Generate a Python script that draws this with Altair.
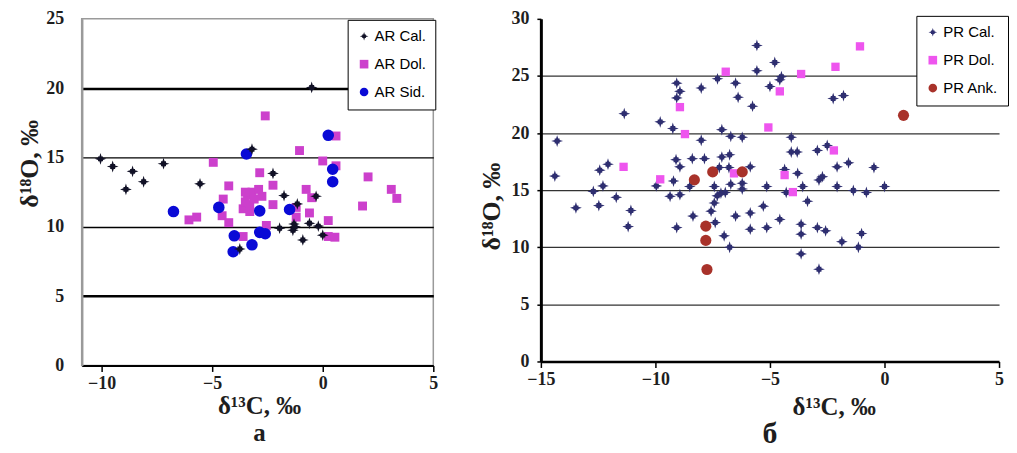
import altair as alt
import pandas as pd

# ---------------- Panel а (AR) ----------------
ar_types = ["AR Cal.", "AR Dol.", "AR Sid."]

ar_cal_x = [-10.05, -9.5, -8.6, -8.9, -8.1, -7.2, -5.55, -3.2, -3.75, -2.25, -1.95, -1.75,
            -1.15, -1.35, -1.3, -1.25, -0.9, -0.6, -0.2, -0.3, 0.0, -0.5]
ar_cal_y = [14.9, 14.35, 14.0, 12.7, 13.25, 14.55, 13.1, 15.6, 8.4, 13.85, 9.9, 12.25,
            11.65, 9.75, 10.2, 10.0, 9.05, 10.25, 10.05, 12.2, 9.4, 20.05]

ar_dol_x = [-2.6, 0.6, -1.05, -4.95, 0.0, 0.6, -2.85, -4.25, -2.25, 2.05, -4.5, -2.25,
            -0.75, -0.5, -1.2, -0.6, -1.2, -4.55, -4.25, -6.05, -5.7, -2.55, -3.6, 0.25,
            0.25, 0.55, 1.8, 3.1, 3.35, -2.75, -3.6, -3.5, -3.4, -3.3, -3.2, -3.1, -2.9,
            -3.5, -3.3]
ar_dol_y = [18.0, 16.55, 15.5, 14.65, 14.75, 14.4, 13.9, 12.95, 13.0, 13.6, 12.0, 11.6,
            12.7, 12.1, 11.4, 11.0, 10.7, 10.8, 10.3, 10.5, 10.7, 10.1, 9.3, 10.45,
            9.3, 9.25, 11.5, 12.7, 12.05, 12.2, 11.3, 11.8, 12.3, 11.6, 12.5, 12.0, 12.7,
            12.5, 11.1]

ar_sid_x = [0.25, 0.45, 0.45, -3.45, -6.75, -4.7, -2.85, -1.5, -4.0, -4.05, -3.2, -2.85, -2.6]
ar_sid_y = [16.6, 14.15, 13.25, 15.25, 11.1, 11.4, 11.15, 11.25, 9.35, 8.2, 8.7, 9.6, 9.5]

# ---------------- Panel б (PR) ----------------
pr_types = ["PR Cal.", "PR Dol.", "PR Ank."]

pr_cal_x = [-5.57, -4.79, -5.57, -7.29, -6.5, -8.0, -9.07, -8.93, -9.07, -4.5, -4.57, -5.0,
            -6.39, -5.76, -2.24, -1.79, -11.36, -9.79, -9.24, -7.1, -6.71, -6.21, -4.07,
            -8.0, -14.29, -4.07, -3.81, -2.93, -2.5, -9.1, -8.93, -8.39, -7.86, -7.1, -6.76,
            -12.07, -12.43, -14.39, -5.86, -7.21, -6.79, -4.36, -3.79, -2.71, -2.86, -2.07,
            -1.57, -0.46, -9.21, -9.96, -12.29, -12.71, -11.71, -13.47, -12.47, -11.07,
            -11.19, -9.36, -8.93, -8.5, -7.43, -7.14, -7.3, -6.95, -6.71, -6.21, -6.21,
            -5.14, -3.57, -4.29, -2.07, -1.36, -0.79, 0.0, -7.43, -7.57, -5.29, -3.36,
            -8.36, -6.5, -5.86, -7.39, -9.07, -5.86, -5.14, -4.57, -3.64, -3.64, -2.93,
            -2.57, -7.0, -6.76, -1.86, -1.0, -1.14, -3.64, -2.86]
pr_cal_y = [27.67, 26.18, 25.45, 24.75, 24.37, 23.94, 24.37, 23.65, 23.08, 24.94, 24.66, 24.08,
            23.13, 22.35, 23.02, 23.28, 21.7, 20.98, 20.4, 20.3, 19.71, 19.63, 19.63,
            19.37, 19.3, 18.34, 18.34, 18.48, 18.91, 17.67, 17.04, 17.76, 17.76, 17.9, 18.1,
            17.27, 16.75, 16.23, 17.04, 16.98, 16.98, 16.81, 16.47, 16.18, 15.89, 17.04,
            17.39, 16.98, 15.8, 15.37, 15.37, 14.89, 14.37, 13.45, 13.65, 13.22,
            11.81, 14.46, 14.6, 15.32, 15.32, 14.74, 14.5, 14.8, 15.52, 15.6, 15.1,
            15.32, 15.32, 14.8, 15.32, 14.97, 14.8, 15.32, 13.88, 13.16, 13.6, 14.03,
            12.73, 12.73, 13.0, 12.16, 11.72, 11.58, 11.72, 12.44, 12.01, 11.15, 11.72,
            11.44, 11.0, 10.0, 10.49, 11.2, 10.0, 9.42, 8.08]

pr_dol_x = [-1.07, -2.14, -6.93, -3.64, -4.57, -8.93, -8.71, -5.07, -2.21, -11.39, -9.79,
            -4.36, -4.0, -6.57]
pr_dol_y = [27.59, 25.8, 25.37, 25.17, 23.65, 22.27, 19.91, 20.49, 18.48, 17.04, 15.95,
            16.32, 14.83, 16.47]

pr_ank_x = [0.83, -7.5, -6.21, -8.3, -7.8, -7.8, -7.75]
pr_ank_y = [21.55, 16.6, 16.6, 15.9, 11.85, 10.6, 8.05]

# marker areas (px^2) per series
ar_sizes = {"AR Cal.": 140, "AR Dol.": 80, "AR Sid.": 135}
pr_sizes = {"PR Cal.": 140, "PR Dol.": 70, "PR Ank.": 125}


def frame(xs, ys, name, sizes):
    return pd.DataFrame({"x": xs, "y": ys, "type": name, "sz": sizes[name]})


df_l = pd.concat([frame(ar_dol_x, ar_dol_y, "AR Dol.", ar_sizes),
                  frame(ar_sid_x, ar_sid_y, "AR Sid.", ar_sizes),
                  frame(ar_cal_x, ar_cal_y, "AR Cal.", ar_sizes)], ignore_index=True)
df_r = pd.concat([frame(pr_cal_x, pr_cal_y, "PR Cal.", pr_sizes),
                  frame(pr_dol_x, pr_dol_y, "PR Dol.", pr_sizes),
                  frame(pr_ank_x, pr_ank_y, "PR Ank.", pr_sizes)], ignore_index=True)

STAR = ("M0,-1L0.18,-0.42L0.42,-0.42L0.42,-0.18L1,0L0.42,0.18L0.42,0.42L0.18,0.42L0,1"
        "L-0.18,0.42L-0.42,0.42L-0.42,0.18L-1,0L-0.42,-0.18L-0.42,-0.42L-0.18,-0.42Z")

SERIF = "Liberation Serif"
SANS = "Liberation Sans"
TXT = "#1e1e1e"


def legend(lx, ly):
    return alt.Legend(orient="none", legendX=lx, legendY=ly, title=None,
                      strokeColor="black", fillColor="white", padding=9,
                      rowPadding=12, labelFont=SANS, labelFontSize=15,
                      labelColor="black", labelOffset=3, symbolStrokeWidth=0,
                      symbolSize=75)


leg_l = legend(267, 1)
left = alt.Chart(df_l).mark_point(filled=True, opacity=1).encode(
    x=alt.X("x:Q", scale=alt.Scale(domain=[-10.9, 5], nice=False, zero=False),
            axis=alt.Axis(values=[-10, -5, 0, 5], grid=False,
                          title=["δ¹³C, ‰", "а"],
                          labelFont=SERIF, labelFontSize=18, labelFontWeight="bold",
                          labelColor=TXT, labelFlush=False, labelPadding=3,
                          domainColor="black", domainWidth=2, tickColor="black",
                          tickWidth=1.5, tickSize=6,
                          titleFont=SERIF, titleFontSize=25, titleFontWeight="bold",
                          titleColor=TXT, titlePadding=1, titleLineHeight=27,
                          titleX=178)),
    y=alt.Y("y:Q", scale=alt.Scale(domain=[0, 25], nice=False, zero=True),
            axis=alt.Axis(values=[0, 5, 10, 15, 20, 25], grid=True, ticks=False,
                          gridColor="black",
                          gridWidth={"condition": {"test": "datum.value == 5 || datum.value == 20",
                                                   "value": 2.4}, "value": 1.3},
                          gridOpacity={"condition": {"test": "datum.value == 0 || datum.value == 25",
                                                     "value": 0}, "value": 1},
                          labelFont=SERIF, labelFontSize=18, labelFontWeight="bold",
                          labelColor=TXT, labelPadding=18,
                          domainColor="#9a9a9a", domainWidth=2.5,
                          title="δ¹⁸O, ‰", titleFont=SERIF, titleFontSize=26,
                          titleFontWeight="bold", titleColor=TXT, titlePadding=3,
                          titleY=145)),
    color=alt.Color("type:N", scale=alt.Scale(domain=ar_types,
                                              range=["#111126", "#cc40cc", "#0a0ad6"]),
                    legend=leg_l),
    shape=alt.Shape("type:N", scale=alt.Scale(domain=ar_types,
                                              range=[STAR, "square", "circle"]),
                    legend=leg_l),
    size=alt.Size("sz:Q", scale=None, legend=None),
).properties(
    width=353, height=348,
    view=alt.ViewBackground(stroke="#9a9a9a", strokeWidth=1.5),
)

leg_r = legend(377, -3)
right = alt.Chart(df_r).mark_point(filled=True, opacity=1).encode(
    x=alt.X("x:Q", scale=alt.Scale(domain=[-15, 5], nice=False, zero=False),
            axis=alt.Axis(values=[-15, -10, -5, 0, 5], grid=False, title="δ¹³C, ‰",
                          labelFont=SERIF, labelFontSize=18, labelFontWeight="bold",
                          labelColor=TXT, labelFlush=False, labelPadding=3,
                          domainColor="black", domainWidth=2.5, tickColor="black",
                          tickWidth=1.5, tickSize=6,
                          titleFont=SERIF, titleFontSize=25, titleFontWeight="bold",
                          titleColor=TXT, titlePadding=6, titleX=294)),
    y=alt.Y("y:Q", scale=alt.Scale(domain=[0, 30], nice=False, zero=True),
            axis=alt.Axis(values=[0, 5, 10, 15, 20, 25, 30], grid=True,
                          tickColor="black", tickSize=4, tickWidth=1.5,
                          gridColor="#333333", gridWidth=1.3,
                          gridOpacity={"condition": {"test": "datum.value == 0 || datum.value == 30",
                                                     "value": 0}, "value": 1},
                          labelFont=SERIF, labelFontSize=18, labelFontWeight="bold",
                          labelColor=TXT, labelPadding=8,
                          domainColor="black", domainWidth=3,
                          title="δ¹⁸O, ‰", titleFont=SERIF, titleFontSize=26,
                          titleFontWeight="bold", titleColor=TXT, titlePadding=7,
                          titleY=188)),
    color=alt.Color("type:N", scale=alt.Scale(domain=pr_types,
                                              range=["#2e2e70", "#ee55ee", "#a8322a"]),
                    legend=leg_r),
    shape=alt.Shape("type:N", scale=alt.Scale(domain=pr_types,
                                              range=[STAR, "square", "circle"]),
                    legend=leg_r),
    size=alt.Size("sz:Q", scale=None, legend=None),
).properties(
    width=460, height=344,
    view=alt.ViewBackground(stroke="transparent"),
    title=alt.TitleParams("б", orient="bottom", font=SERIF, fontSize=30,
                          fontWeight="bold", color=TXT, offset=0, anchor="middle"),
)

chart = alt.hconcat(left, right, spacing=38).resolve_scale(
    x="independent", y="independent", color="independent", shape="independent",
).resolve_legend(color="independent", shape="independent").properties(
    padding={"left": 8, "top": 0, "right": 0, "bottom": 0},
    background="white",
).configure_view(stroke="transparent")

chart.save("out.html", embed_options={"renderer": "svg", "actions": False})
